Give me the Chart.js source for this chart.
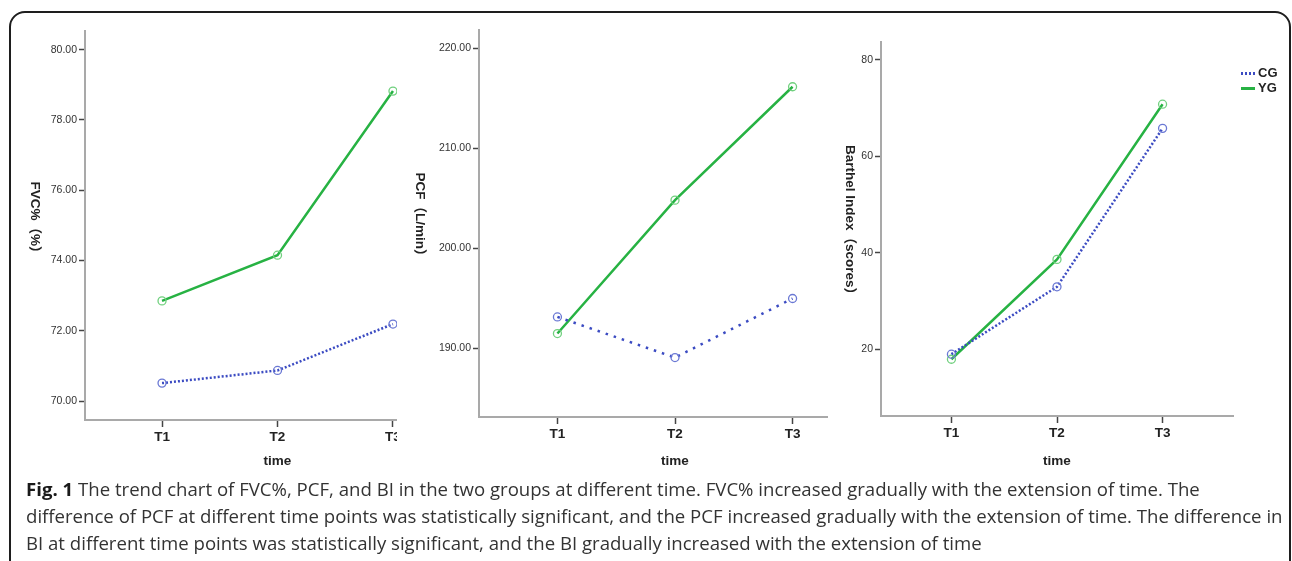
<!DOCTYPE html>
<html>
<head>
<meta charset="utf-8">
<script src="https://cdn.jsdelivr.net/npm/chart.js@4.4.1/dist/chart.umd.min.js"></script>
<style>
  body { margin: 0; width: 1292px; height: 561px; overflow: hidden; background: #fff; position: relative; font-family: 'Liberation Sans', Arial, sans-serif; }
  .frame { position: absolute; left: 9px; top: 11px; width: 1282px; height: 620px; border: 2px solid #1e1e1e; border-radius: 16px; box-sizing: border-box; }
  .panel { position: absolute; top: 0; height: 480px; overflow: hidden; }
  .panel canvas { position: absolute; left: 0; top: 0; }
  .legend { position: absolute; left: 1241px; top: 65px; font: bold 13px 'Liberation Sans', Arial, sans-serif; color: #222; }
  .legend .row { height: 15px; line-height: 15px; white-space: nowrap; }
  .legend .swatch { display: inline-block; width: 14px; height: 2.5px; vertical-align: middle; margin-right: 3px; }
  .caption { position: absolute; left: 26px; top: 475px; font-family: 'Open Sans', sans-serif; font-size: 18.6px; line-height: 27px; color: #333; white-space: nowrap; }
  .caption b { color: #1a1a1a; }
</style>
</head>
<body>
<div class="frame"></div>

<div class="panel" style="left:0; width:397px;"><canvas id="fvcChart" width="500" height="480"></canvas></div>
<div class="panel" style="left:397px; width:431px;"><canvas id="pcfChart" width="500" height="480"></canvas></div>
<div class="panel" style="left:828px; width:464px;"><canvas id="biChart" width="464" height="480"></canvas></div>
<div class="legend" id="legend"></div>

<div class="caption">
  <b>Fig. 1</b> The trend chart of FVC%, PCF, and BI in the two groups at different time. FVC% increased gradually with the extension of time. The<br>
  difference of PCF at different time points was statistically significant, and the PCF increased gradually with the extension of time. The difference in<br>
  BI at different time points was statistically significant, and the BI gradually increased with the extension of time
</div>

<script>
// categorie e valori
const timeLabels = ['T1', 'T2', 'T3'];
const groupNames = ['CG', 'YG'];

const fvcCG = [70.51, 70.87, 72.19];
const fvcYG = [72.85, 74.15, 78.82];
const pcfCG = [193.13, 189.07, 194.97];
const pcfYG = [191.47, 204.80, 216.13];
const biCG = [18.98, 32.95, 65.80];
const biYG = [17.93, 38.63, 70.80];

const fvcTicks = [70, 72, 74, 76, 78, 80];
const pcfTicks = [190, 200, 210, 220];
const biTicks = [20, 40, 60, 80];

const blue = '#3b4bc2';
const blueMarker = '#6a78d4';
const green = '#27b243';
const greenMarker = '#70d07e';

// titolo asse y ruotato in senso orario (come nell'originale)
const sideTitle = {
  id: 'sideTitle',
  afterDraw(chart, args, opts) {
    const ctx = chart.ctx;
    const area = chart.chartArea;
    ctx.save();
    ctx.translate(opts.x, (area.top + area.bottom) / 2 + opts.dy);
    ctx.rotate(Math.PI / 2);
    ctx.font = 'bold 13.5px "Liberation Sans", "Noto Sans CJK SC", sans-serif';
    ctx.fillStyle = '#222';
    ctx.textAlign = 'center';
    ctx.textBaseline = 'middle';
    ctx.fillText(opts.text, 0, 0);
    ctx.restore();
  }
};

function toPoints(values) {
  return values.map((v, i) => ({ x: i, y: v }));
}

function createLineChart(id, cg, yg, ticks, yMin, yMax, decimals, box, title, dash) {
  const ctx = document.getElementById(id).getContext('2d');
  return new Chart(ctx, {
    type: 'line',
    data: {
      datasets: [{
        label: groupNames[0],
        data: toPoints(cg),
        borderColor: blue,
        borderWidth: 2.5,
        borderDash: dash,
        pointRadius: 4,
        pointBorderWidth: 1.3,
        pointBorderColor: blueMarker,
        pointBackgroundColor: 'rgba(0,0,0,0)'
      }, {
        label: groupNames[1],
        data: toPoints(yg),
        borderColor: green,
        borderWidth: 2.5,
        pointRadius: 4,
        pointBorderWidth: 1.3,
        pointBorderColor: greenMarker,
        pointBackgroundColor: 'rgba(0,0,0,0)'
      }]
    },
    options: {
      responsive: false,
      animation: false,
      devicePixelRatio: 1,
      layout: { padding: { left: 0, top: box.top, right: box.right, bottom: 0 } },
      plugins: {
        legend: { display: false },
        tooltip: { enabled: false },
        sideTitle: title
      },
      scales: {
        x: {
          type: 'linear',
          min: -0.667,
          max: 2.667,
          afterBuildTicks: scale => { scale.ticks = timeLabels.map((t, i) => ({ value: i })); },
          afterFit: scale => { scale.height = box.xHeight; },
          border: { color: '#a9a9a9', width: 2 },
          grid: { drawOnChartArea: false, drawTicks: true, tickLength: 7, tickColor: '#444', tickWidth: 1.5 },
          ticks: {
            padding: 2,
            color: '#222',
            font: { size: 13.5, weight: 'bold' },
            callback: v => timeLabels[v]
          },
          title: {
            display: true,
            text: 'time',
            color: '#222',
            font: { size: 13.5, weight: 'bold' },
            padding: { top: 0, bottom: 11 }
          }
        },
        y: {
          min: yMin,
          max: yMax,
          afterBuildTicks: scale => { scale.ticks = ticks.map(v => ({ value: v })); },
          afterFit: scale => { scale.width = box.yWidth; },
          border: { color: '#a9a9a9', width: 2 },
          grid: { drawOnChartArea: false, drawTicks: true, tickLength: 6, tickColor: '#444', tickWidth: 1.5 },
          ticks: {
            padding: 2,
            color: '#333',
            font: { size: 10.5 },
            callback: v => v.toFixed(decimals)
          }
        }
      }
    },
    plugins: [sideTitle]
  });
}

Chart.defaults.font.family = "'Liberation Sans', Arial, sans-serif";

createLineChart('fvcChart', fvcCG, fvcYG, fvcTicks, 69.46, 80.53, 2,
  { top: 31, right: 30, xHeight: 60, yWidth: 85 },
  { text: 'FVC%（%）', x: 35, dy: -5 }, [2, 2]);

createLineChart('pcfChart', pcfCG, pcfYG, pcfTicks, 183.13, 221.8, 2,
  { top: 30, right: 26, xHeight: 63, yWidth: 82 },
  { text: 'PCF（L/min）', x: 23, dy: -6 }, [2.5, 6]);

createLineChart('biChart', biCG, biYG, biTicks, 6.16, 83.7, 0,
  { top: 42, right: 59, xHeight: 64, yWidth: 53 },
  { text: 'Barthel Index（scores）', x: 22, dy: -6 }, [2, 2]);

// legenda
const legend = document.getElementById('legend');
const swatches = [
  'repeating-linear-gradient(90deg, ' + blue + ' 0 2px, transparent 2px 4px)',
  green
];
groupNames.forEach((name, i) => {
  const row = document.createElement('div');
  row.className = 'row';
  row.innerHTML = '<span class="swatch" style="background:' + swatches[i] + '"></span>' + name;
  legend.appendChild(row);
});
</script>
</body>
</html>
